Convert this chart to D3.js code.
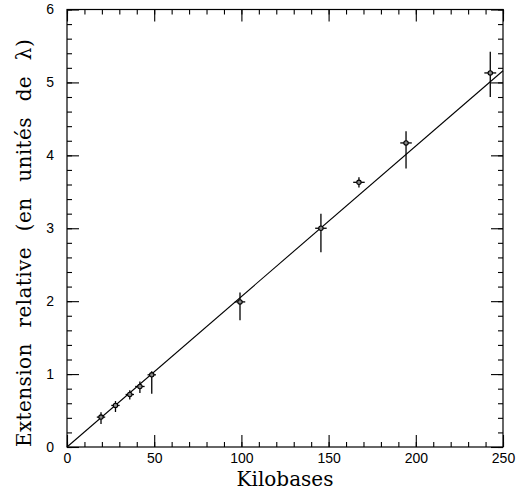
<!DOCTYPE html>
<html><head><meta charset="utf-8">
<script src="https://cdn.jsdelivr.net/npm/d3@7/dist/d3.min.js"></script>
<style>body{margin:0;background:#fff}</style>
</head><body><svg id="c" width="516" height="493"></svg>
<script>
// data (kilobases, relative extension, error bars)
const kb      = [19.5, 27.8, 36.0, 41.8, 48.6, 99.2, 145.6, 167.4, 194.4, 242.7];
const ext     = [0.41, 0.57, 0.72, 0.83, 0.99, 1.99, 3.00, 3.63, 4.17, 5.13];
const yHi     = [0.475, 0.63, 0.78, 0.90, 1.04, 2.12, 3.20, 3.70, 4.33, 5.42];
const yLo     = [0.315, 0.48, 0.65, 0.74, 0.73, 1.74, 2.67, 3.56, 3.82, 4.80];
const xErr    = [2.4, 2.4, 2.4, 2.7, 2.4, 3.0, 3.3, 3.3, 3.3, 3.4];
const fitSlope = 0.02064;
const xTicks = [0, 50, 100, 150, 200, 250];
const yTicks = [0, 1, 2, 3, 4, 5, 6];

const svg = d3.select('#c');
const L = 67, R = 503, T = 9.5, B = 447;
const x = d3.scaleLinear().domain([0, 250]).range([L, R]);
const y = d3.scaleLinear().domain([0, 6]).range([B, T]);

const g = svg.append('g');
// frame
g.append('rect').attr('x', L).attr('y', T).attr('width', R - L).attr('height', B - T)
  .attr('fill', 'none').attr('stroke', '#000').attr('stroke-width', 1.2);

const ax = (axis) => (sel) => { sel.call(axis); sel.select('.domain').remove(); };
const tickFont = sel => sel.selectAll('text').attr('font-family', 'Liberation Sans, Arial, sans-serif').attr('font-size', 14).attr('fill', '#000');

// x axes
g.append('g').attr('transform', `translate(0,${B})`)
  .call(ax(d3.axisBottom(x).tickValues(xTicks).tickSize(-12).tickPadding(6).tickFormat(d3.format('d'))))
  .call(tickFont);
g.append('g').attr('transform', `translate(0,${B})`)
  .call(ax(d3.axisBottom(x).tickValues(d3.range(0, 251, 10)).tickSize(-5).tickFormat('')));
g.append('g').attr('transform', `translate(0,${T})`)
  .call(ax(d3.axisTop(x).tickValues(xTicks).tickSize(-12).tickFormat('')));
g.append('g').attr('transform', `translate(0,${T})`)
  .call(ax(d3.axisTop(x).tickValues(d3.range(0, 251, 10)).tickSize(-5).tickFormat('')));
// y axes
g.append('g').attr('transform', `translate(${L},0)`)
  .call(ax(d3.axisLeft(y).tickValues(yTicks).tickSize(-12).tickPadding(13).tickFormat(d3.format('d'))))
  .call(tickFont);
g.append('g').attr('transform', `translate(${L},0)`)
  .call(ax(d3.axisLeft(y).tickValues(d3.range(0, 6.01, 0.2)).tickSize(-5).tickFormat('')));
g.append('g').attr('transform', `translate(${R},0)`)
  .call(ax(d3.axisRight(y).tickValues(yTicks).tickSize(-12).tickFormat('')));
g.append('g').attr('transform', `translate(${R},0)`)
  .call(ax(d3.axisRight(y).tickValues(d3.range(0, 6.01, 0.2)).tickSize(-5).tickFormat('')));
g.selectAll('.tick line').attr('stroke', '#000').attr('stroke-width', 1.1);

// fit line
g.append('line').attr('x1', x(0)).attr('y1', y(0)).attr('x2', x(250)).attr('y2', y(250 * fitSlope))
  .attr('stroke', '#000').attr('stroke-width', 1.1);

// points with error bars
const pts = kb.map((k, i) => ({k, e: ext[i], hi: yHi[i], lo: yLo[i], xe: xErr[i]}));
const pg = g.append('g').selectAll('g').data(pts).join('g');
pg.append('line').attr('x1', d => x(d.k)).attr('x2', d => x(d.k)).attr('y1', d => y(d.hi)).attr('y2', d => y(d.lo))
  .attr('stroke', '#000').attr('stroke-width', 1.3);
pg.append('line').attr('x1', d => x(d.k - d.xe)).attr('x2', d => x(d.k + d.xe)).attr('y1', d => y(d.e)).attr('y2', d => y(d.e))
  .attr('stroke', '#000').attr('stroke-width', 1.3);
pg.append('circle').attr('cx', d => x(d.k)).attr('cy', d => y(d.e)).attr('r', 2.2)
  .attr('fill', '#888').attr('stroke', '#000').attr('stroke-width', 1.1);

// titles
svg.append('text').attr('x', (L + R) / 2).attr('y', 486).attr('text-anchor', 'middle')
  .attr('font-family', 'DejaVu Serif, serif').attr('font-size', 20).text('Kilobases');
svg.append('text').attr('transform', 'translate(31,243) rotate(-90)').attr('text-anchor', 'middle')
  .attr('font-family', 'DejaVu Serif, serif').attr('font-size', 20).attr('word-spacing', 9).attr('letter-spacing', 0.4)
  .text('Extension relative (en unités de λ)');
</script></body></html>
